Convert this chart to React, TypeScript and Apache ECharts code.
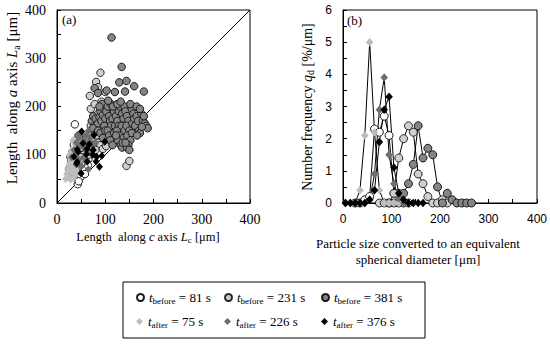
import React, { useEffect, useRef } from 'react';
import * as echarts from 'echarts';

// ---------- data ----------
const SERIES_KEYS = ['before81', 'before231', 'before381', 'after75', 'after226', 'after376'];

// left panel (a): [Lc, La] in µm
const A_BEFORE81 = [
  [37, 163], [43, 39], [28, 95], [32, 105], [35, 120], [40, 130], [45, 140], [30, 80], [25, 70], [38, 90],
  [48, 110], [55, 125], [60, 135], [52, 100], [42, 75], [35, 60], [50, 55], [58, 70], [65, 90], [70, 115],
  [62, 105], [45, 45], [55, 85], [68, 125], [75, 130], [30, 88], [40, 100], [50, 120], [33, 65], [47, 92],
  [58, 60], [64, 78],
];
const A_BEFORE231 = [
  [90, 270], [81, 251], [85, 240], [68, 222], [144, 77], [150, 87], [100, 230], [75, 175], [80, 165], [70, 160],
  [85, 185], [90, 195], [95, 200], [100, 205], [105, 210], [88, 175], [78, 150], [65, 140], [60, 130], [72, 135],
  [82, 140], [92, 155], [98, 170], [110, 180], [115, 190], [105, 160], [95, 145], [85, 125], [75, 120], [68, 110],
  [90, 120], [100, 130], [110, 150], [120, 170], [125, 200], [60, 115], [55, 100], [50, 95], [80, 110], [95, 112],
  [102, 118], [70, 195], [78, 205], [92, 210], [115, 140], [120, 130], [130, 150], [45, 80], [40, 70], [65, 100],
];
const A_BEFORE381 = [
  [113, 343], [134, 282], [129, 250], [144, 253], [160, 242], [180, 231], [141, 231], [103, 233], [120, 230], [78, 238],
  [85, 228], [72, 170], [75, 180], [78, 160], [80, 175], [75, 155], [85, 165], [88, 178], [90, 190], [92, 170],
  [95, 182], [98, 160], [85, 150], [90, 145], [95, 135], [100, 150], [100, 175], [97, 195], [93, 205], [88, 200],
  [102, 190], [105, 200], [108, 180], [110, 170], [112, 160], [105, 150], [108, 140], [110, 130], [115, 120], [118, 145],
  [115, 175], [118, 190], [112, 205], [106, 212], [116, 200], [120, 160], [122, 180], [125, 170], [128, 160], [124, 150],
  [130, 140], [126, 130], [132, 120], [135, 115], [128, 190], [130, 200], [135, 185], [138, 175], [134, 160], [140, 150],
  [138, 135], [136, 125], [125, 205], [140, 200], [132, 210], [122, 140], [142, 190], [145, 180], [148, 170], [144, 160],
  [150, 150], [146, 140], [152, 130], [148, 120], [145, 115], [155, 195], [158, 185], [152, 205], [156, 165], [160, 175],
  [155, 145], [142, 125], [150, 110], [162, 160], [165, 180], [168, 170], [170, 150], [172, 145], [175, 185], [178, 170],
  [182, 165], [185, 160], [188, 155], [165, 200], [172, 195], [180, 180], [176, 158], [166, 140],
];
const A_AFTER75 = [
  [20, 60], [22, 70], [25, 80], [28, 90], [24, 55], [30, 65], [32, 75], [35, 85], [26, 100], [30, 110],
  [35, 100], [38, 120], [40, 95], [42, 105], [45, 115], [28, 48], [34, 52], [38, 70], [44, 80], [48, 90],
  [50, 125], [33, 130], [18, 50], [40, 60],
];
const A_AFTER226 = [
  [35, 110], [40, 125], [45, 135], [50, 145], [55, 130], [60, 140], [65, 150], [48, 120], [58, 115], [62, 125],
  [70, 135], [72, 120], [68, 105], [55, 95], [45, 90], [40, 80], [50, 75], [60, 85], [75, 110], [80, 125],
  [38, 100], [42, 140], [30, 95], [65, 70],
];
const A_AFTER376 = [
  [51, 148], [42, 111], [35, 96], [42, 85], [50, 61], [63, 86], [62, 112], [77, 141], [74, 100], [81, 86],
  [88, 75], [93, 98], [99, 127], [67, 122], [54, 124], [61, 101], [82, 96], [75, 110], [44, 106], [41, 82],
];

// right panel (b): bin centres (µm) and number frequency q_d (%/µm)
const BINS = [5, 15, 25, 35, 45, 55, 65, 75, 85, 95, 105, 115, 125, 135, 145, 155, 165, 175, 185, 195, 205, 215, 225, 235, 245, 255, 265];
const N = null;
const B_BEFORE81 = [N, N, 0, 0, 0.1, 0.2, 2.3, 2.2, 2.7, 2.1, 0.3, 0.3, 0, 0, N, N, N, N, N, N, N, N, N, N, N, N, N];
const B_BEFORE231 = [N, N, N, N, N, N, N, 0, 0, 0, 0.3, 1.4, 2.0, 2.4, 2.2, 0.9, 0.6, 0.2, 0, 0, 0.1, 0, N, N, N, N, N];
const B_BEFORE381 = [N, N, N, N, N, N, N, N, N, 0, 0, 0, 0.3, 0.6, 1.2, 2.4, 1.4, 1.7, 1.5, 0.5, 0, 0.3, 0.1, 0, 0, 0, 0];
const B_AFTER75 = [0, 0, 0, 0.4, 2.1, 5.0, 2.2, 0.4, 0, 0, 0, 0, N, N, N, N, N, N, N, N, N, N, N, N, N, N, N];
const B_AFTER226 = [0, 0, 0, 0, 0, 0.1, 0.9, 2.9, 3.9, 1.5, 0.6, 0.15, 0, 0, N, N, N, N, N, N, N, N, N, N, N, N, N];
const B_AFTER376 = [0, 0, 0, 0, 0, 0.1, 0.4, 1.9, 2.9, 3.3, 1.1, 0.3, 0.1, 0, 0, 0, 0, N, N, N, N, N, N, N, N, N, N];

const X_TICKS = [0, 100, 200, 300, 400];
const B_Y_TICKS = [0, 1, 2, 3, 4, 5, 6];

const LEGEND_TEXT = [
  '{i|t}{s|before}{n| = 81 s}',
  '{i|t}{s|before}{n| = 231 s}',
  '{i|t}{s|before}{n| = 381 s}',
  '{i|t}{s|after}{n| = 75 s}',
  '{i|t}{s|after}{n| = 226 s}',
  '{i|t}{s|after}{n| = 376 s}',
];

// ---------- styles ----------
const SERIF = 'Liberation Serif';
const SANS = 'Liberation Sans';
const STYLES: Record<string, any> = {
  before81: { symbol: 'circle', size: 7.5, color: '#ffffff', border: '#1a1a1a', bw: 1 },
  before231: { symbol: 'circle', size: 7.5, color: '#cfcfcf', border: '#2a2a2a', bw: 1 },
  before381: { symbol: 'circle', size: 7.5, color: '#858585', border: '#1a1a1a', bw: 1 },
  after75: { symbol: 'diamond', size: [7, 8], color: '#bdbdbd', border: '#bdbdbd', bw: 0 },
  after226: { symbol: 'diamond', size: [7, 8], color: '#6e6e6e', border: '#6e6e6e', bw: 0 },
  after376: { symbol: 'diamond', size: [7, 8], color: '#000000', border: '#000000', bw: 0 },
};

const richSet = (size: number, sub: number) => ({
  n: { fontSize: size, fontFamily: SERIF, lineHeight: size + 3, fill: '#000', color: '#000' },
  i: { fontSize: size, fontFamily: SERIF, fontStyle: 'italic', lineHeight: size + 3, fill: '#000', color: '#000' },
  s: { fontSize: sub, fontFamily: SERIF, lineHeight: sub, verticalAlign: 'bottom', fill: '#000', color: '#000' },
});

export default function App() {
  const ref = useRef<HTMLDivElement>(null);
  useEffect(() => {
    document.body.style.margin = '0';
    if (!ref.current) return;
    const chart = echarts.init(ref.current, null, { renderer: 'svg' });

    const A_DATA: Record<string, number[][]> = {
      before81: A_BEFORE81, before231: A_BEFORE231, before381: A_BEFORE381,
      after75: A_AFTER75, after226: A_AFTER226, after376: A_AFTER376,
    };
    const B_DATA: Record<string, (number | null)[]> = {
      before81: B_BEFORE81, before231: B_BEFORE231, before381: B_BEFORE381,
      after75: B_AFTER75, after226: B_AFTER226, after376: B_AFTER376,
    };

    const axisBase = () => ({
      axisLine: { show: true, onZero: false, lineStyle: { color: '#000', width: 1 } },
      axisTick: { show: true, inside: true, length: 4, lineStyle: { color: '#000', width: 1 } },
      splitLine: { show: false },
    });
    const hundredFmt = (v: number) => (X_TICKS.includes(v) ? String(v) : '');

    const scatterSeries = SERIES_KEYS.map((k) => {
      const s = STYLES[k];
      return {
        type: 'scatter', name: k, xAxisIndex: 0, yAxisIndex: 0,
        symbol: s.symbol, symbolSize: s.size,
        itemStyle: { color: s.color, borderColor: s.border, borderWidth: s.bw, opacity: 1 },
        data: A_DATA[k],
        z: 3,
      };
    });
    const lineSeries = SERIES_KEYS.map((k) => {
      const s = STYLES[k];
      const pts = BINS.map((b, i) => [b, B_DATA[k][i]]).filter((p) => p[1] !== null);
      return {
        type: 'line', name: k, xAxisIndex: 1, yAxisIndex: 1,
        symbol: s.symbol, symbolSize: s.symbol === 'circle' ? 8 : [7.5, 8.5], showSymbol: true,
        lineStyle: { color: '#000', width: 1 },
        itemStyle: { color: s.color, borderColor: s.border, borderWidth: s.bw, opacity: 1 },
        data: pts,
        z: 3,
      };
    });

    const legendPos = [
      [136, 291], [224, 291], [321, 291],
      [136, 315], [224, 315], [321, 315],
    ];
    const legendRich = richSet(13, 9);

    chart.setOption({
      animation: false,
      backgroundColor: '#fff',
      grid: [
        { left: 57, top: 10, width: 193, height: 193, show: true, borderColor: '#000', borderWidth: 1, backgroundColor: 'transparent' },
        { left: 343, top: 10, width: 194, height: 193, show: true, borderColor: '#000', borderWidth: 1, backgroundColor: 'transparent' },
      ],
      xAxis: [
        { type: 'value', gridIndex: 0, min: 0, max: 400, interval: 50, ...axisBase(),
          axisLabel: { color: '#000', fontFamily: SERIF, fontSize: 14, margin: 9, formatter: hundredFmt } },
        { type: 'value', gridIndex: 1, min: 0, max: 400, interval: 50, ...axisBase(),
          axisLabel: { color: '#000', fontFamily: SANS, fontSize: 12, margin: 10, formatter: hundredFmt } },
      ],
      yAxis: [
        { type: 'value', gridIndex: 0, min: 0, max: 400, interval: 50, ...axisBase(),
          axisLabel: { color: '#000', fontFamily: SERIF, fontSize: 14, margin: 11, formatter: hundredFmt } },
        { type: 'value', gridIndex: 1, min: 0, max: 6, interval: 0.5, ...axisBase(),
          axisLabel: { color: '#000', fontFamily: SANS, fontSize: 12, margin: 11,
            formatter: (v: number) => (B_Y_TICKS.includes(v) ? String(v) : '') } },
      ],
      legend: SERIES_KEYS.map((k, idx) => ({
        data: [{ name: k, icon: STYLES[k].symbol }],
        left: legendPos[idx][0], top: legendPos[idx][1],
        itemWidth: 7, itemHeight: 7, padding: 0, selectedMode: false,
        formatter: () => LEGEND_TEXT[idx],
        textStyle: { color: '#000', fontFamily: SERIF, fontSize: 13, rich: legendRich },
      })),
      graphic: [
        { type: 'rect', shape: { x: 123, y: 282, width: 302, height: 56 }, style: { fill: 'none', stroke: '#000', lineWidth: 1 }, silent: true },
        { type: 'text', x: 62, y: 19, style: { text: '(a)', font: `13px "${SERIF}"`, fill: '#000', verticalAlign: 'middle' } },
        { type: 'text', x: 347, y: 20, style: { text: '(b)', font: `13px "${SERIF}"`, fill: '#000', verticalAlign: 'middle' } },
        { type: 'text', x: 148, y: 237, style: {
          text: '{n|Length  along }{i|c}{n| axis }{i|L}{s|c}{n| [μm]}', rich: richSet(12.5, 9),
          align: 'center', verticalAlign: 'middle' } },
        { type: 'text', x: 12, y: 98, rotation: Math.PI / 2, style: {
          text: '{n|Length  along }{i|a}{n| axis }{i|L}{s|a}{n| [μm]}', rich: richSet(15, 10),
          align: 'center', verticalAlign: 'middle' } },
        { type: 'text', x: 307, y: 107, rotation: Math.PI / 2, style: {
          text: '{n|Number frequency }{i|q}{s|d}{n| [%/μm]}', rich: richSet(14, 10),
          align: 'center', verticalAlign: 'middle' } },
        { type: 'text', x: 418, y: 251, style: {
          text: '{n|Particle size converted to an equivalent}\n{n|spherical diameter [μm]}', rich: richSet(13, 9),
          align: 'center', verticalAlign: 'middle' } },
      ],
      series: [
        {
          type: 'line', xAxisIndex: 0, yAxisIndex: 0, data: [[0, 0], [400, 400]],
          symbol: 'none', lineStyle: { color: '#000', width: 1 }, silent: true, z: 2,
        },
        ...scatterSeries,
        ...lineSeries,
      ],
    });
    return () => chart.dispose();
  }, []);
  return <div ref={ref} style={{ width: 550, height: 350 }} />;
}
